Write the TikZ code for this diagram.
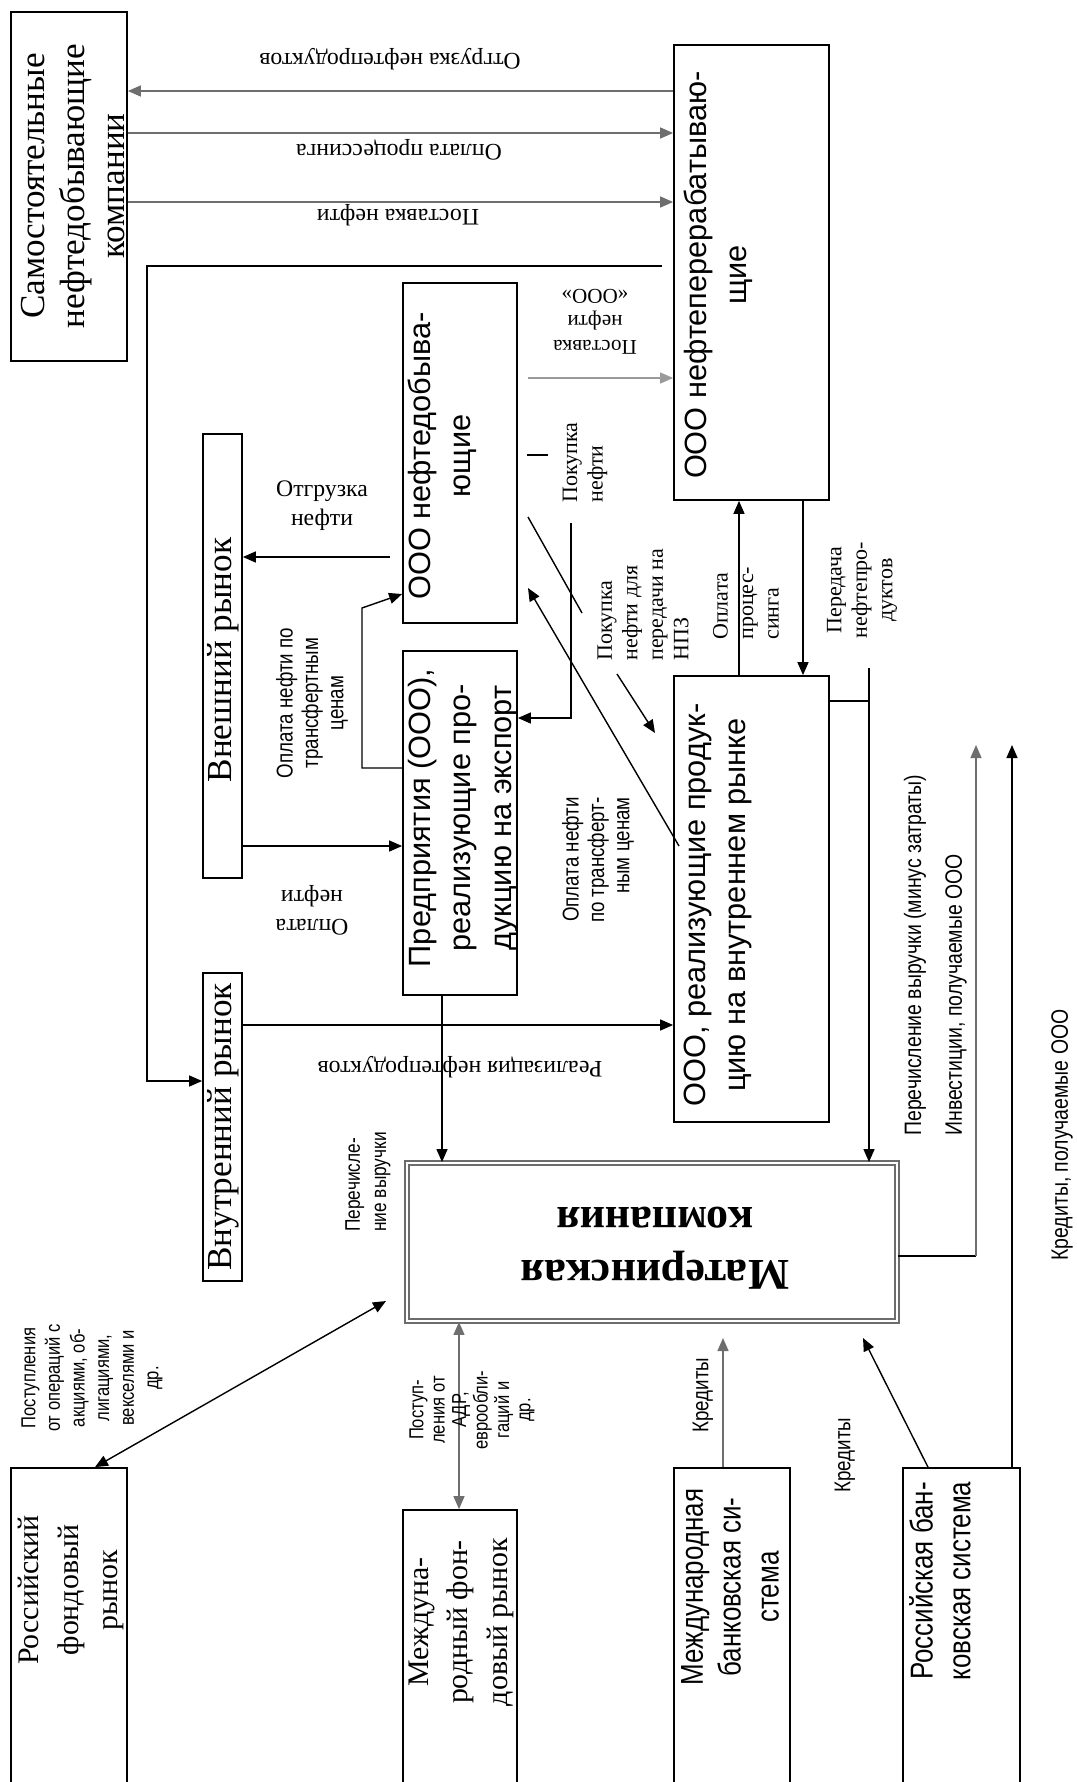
\documentclass[tikz,border=0pt]{standalone}
\usepackage{fontspec}
\setmainfont{Liberation Serif}
\newfontfamily\boxsans{Liberation Sans}
\newfontfamily\narrowsans[FakeStretch=0.82]{Liberation Sans}
\usetikzlibrary{arrows.meta, fit}
\definecolor{lineGray}{HTML}{6E6E6E}
\definecolor{lightGray}{HTML}{9A9A9A}

\begin{document}
\begin{tikzpicture}[x=0.02cm, y=-0.02cm,
    box/.style={draw, line width=1pt, inner sep=0pt},
    matbox/.style={draw=gray!85!black, line width=1.1pt, double=white,
                   double distance=0.8pt, inner sep=0pt},
    serift/.style={rotate=90, align=center, inner sep=0pt,
                   font=\rmfamily\fontsize{20}{23}\selectfont},
    sanst/.style={rotate=90, align=center, inner sep=0pt,
                  font=\boxsans\fontsize{17.5}{23}\selectfont},
    narrowt/.style={rotate=90, align=center, inner sep=0pt,
                    font=\narrowsans\fontsize{18}{21.5}\selectfont},
    mattxt/.style={rotate=180, align=center, inner sep=0pt,
                   font=\rmfamily\bfseries\fontsize{25}{30}\selectfont},
    lbl/.style={align=center, inner sep=0pt, font=\fontsize{13.5}{16.5}\selectfont},
    ulbl/.style={lbl, rotate=180},
    slbl/.style={align=center, inner sep=0pt, rotate=90,
                 font=\fontsize{12.5}{14.5}\selectfont},
    nlbl/.style={align=center, inner sep=0pt, rotate=90,
                 font=\narrowsans\fontsize{13}{14.5}\selectfont},
    ln/.style={line width=0.8pt},
    arr/.style={ln, -{Triangle[length=2.6mm, width=2.2mm]}},
    garr/.style={arr, draw=lineGray},
    larr/.style={arr, draw=lightGray, line width=0.6pt},
    darr/.style={ln, {Triangle[length=2.6mm, width=2.2mm]}-{Triangle[length=2.6mm, width=2.2mm]}},
  ]
    \useasboundingbox (0,0) rectangle (1077,1782);

    % ─── Boxes ───
    \node[box, fit={(11,12) (127,361)}] (samost) {};
    \node[box, fit={(674,45) (829,500)}] (npz) {};
    \node[box, fit={(203,434) (242,878)}] (vnesh) {};
    \node[box, fit={(203,973) (242,1281)}] (vnutr) {};
    \node[box, fit={(403,283) (517,623)}] (dobyv) {};
    \node[box, fit={(403,651) (517,995)}] (predpr) {};
    \node[box, fit={(674,676) (829,1122)}] (oooVn) {};
    \node[matbox, fit={(407,1163) (897,1321)}] (mat) {};
    \node[box, fit={(11,1468) (127,1800)}] (rosFond) {};
    \node[box, fit={(403,1510) (517,1800)}] (mezhFond) {};
    \node[box, fit={(674,1468) (790,1800)}] (mezhBank) {};
    \node[box, fit={(903,1468) (1020,1800)}] (rosBank) {};

    % ─── Box texts ───
    \node[serift] (samostT) at (73,186) {Самостоятельные\\нефтедобывающие\\компании};
    \node[sanst] (npzT) at (718,275) {ООО нефтеперерабатываю-\\щие};
    \node[serift] (vneshT) at (223,660) {Внешний рынок};
    \node[serift] (vnutrT) at (223,1127) {Внутренний рынок};
    \node[sanst] (dobyvT) at (442,456) {ООО нефтедобыва-\\ющие};
    \node[sanst] (predprT) at (463,818) {Предприятия (ООО),\\реализующие про-\\дукцию на экспорт};
    \node[sanst] (oooVnT) at (718,905) {ООО, реализующие продук-\\цию на внутреннем рынке};
    \node[mattxt] (matT) at (655,1248) {Материнская\\компания};
    \node[serift, font=\rmfamily\fontsize{17}{22.5}\selectfont] (rosFondT) at (71,1590)
      {Российский\\фондовый\\рынок};
    \node[serift, font=\rmfamily\fontsize{17}{22.5}\selectfont] (mezhFondT) at (461,1622)
      {Междуна-\\родный фон-\\довый рынок};
    \node[narrowt] (mezhBankT) at (730,1587) {Международная\\банковская си-\\стема};
    \node[narrowt] (rosBankT) at (940,1581) {Российская бан-\\ковская система};

    % ─── Free ends ───
    \coordinate (dStart) at (662,266);
    \coordinate (eStart) at (528,378);
    \coordinate (fStart) at (390,557);
    \coordinate (kTickA) at (527,455);
    \coordinate (kTickB) at (548,455);
    \coordinate (kStart) at (571,523);
    \coordinate (lA) at (528,517);
    \coordinate (lB) at (582,613);
    \coordinate (lC) at (617,674);
    \coordinate (lD) at (655,733);
    \coordinate (mStart) at (679,846);
    \coordinate (mEnd) at (528,588);
    \coordinate (pTop) at (869,668);
    \coordinate (invTop) at (976,745);
    \coordinate (credTop) at (1012,745);

    % ─── Top flows ───
    \draw[garr] (npz.west |- 0,91) -- (samost.east |- 0,91);
    \draw[garr] (samost.east |- 0,133) -- (npz.west |- 0,133);
    \draw[garr] (samost.east |- 0,202) -- (npz.west |- 0,202);
    \draw[arr] (dStart) -- (147,266) |- (vnutr.west |- 0,1081);
    \draw[larr] (eStart) -- (npz.west |- 0,378);

    \node[ulbl] (lblOtgrNp) at (390,59) {Отгрузка нефтепродуктов};
    \node[ulbl] (lblOplProc) at (399,150) {Оплата процессинга};
    \node[ulbl] (lblPost) at (398,215) {Поставка нефти};
    \node[ulbl, font=\fontsize{12}{14.5}\selectfont] (lblPostOoo) at (595,322)
      {Поставка\\нефти\\«ООО»};

    % ─── Export side ───
    \draw[arr] (fStart) -- (vnesh.east |- 0,557);
    \node[lbl] (lblOtgr) at (322,506) {Отгрузка\\нефти};
    \draw[arr] (predpr.west |- 0,768) -- (362,768) -- (362,608) -- (dobyv.west |- 0,594);
    \node[nlbl] (lblOplTr) at (312,703) {Оплата нефти по\\трансфертным\\ценам};
    \draw[arr] (vnesh.east |- 0,846) -- (predpr.west |- 0,846);
    \node[ulbl] (lblOplN) at (312,910) {Оплата\\нефти};

    % ─── Domestic side ───
    \draw[arr] (vnutr.east |- 0,1025) -- (oooVn.west |- 0,1025);
    \node[ulbl] (lblReal) at (460,1067) {Реализация нефтепродуктов};
    \draw[arr] (predpr.south -| 442,0) -- (mat.north -| 442,0);
    \node[nlbl, font=\narrowsans\fontsize{12}{15}\selectfont, align=left, anchor=west]
      (lblPerech) at (368,1232) {Перечисле-\\ние выручки};

    % ─── Between the ООО ───
    \draw[ln] (kTickA) -- (kTickB);
    \draw[arr] (kStart) |- (predpr.east |- 0,718);
    \node[slbl, align=left, anchor=west] (lblPok) at (585,503) {Покупка\\нефти};
    \draw[ln] (lA) -- (lB);
    \draw[arr] (lC) -- (lD);
    \node[slbl, align=left, anchor=west] (lblPokNpz) at (643,661)
      {Покупка\\нефти для\\передачи на\\НПЗ};
    \draw[arr] (mStart) -- (mEnd);
    \node[nlbl, align=right, anchor=east] (lblOplTr2) at (598,797)
      {Оплата нефти\\по трансферт-\\ным ценам};
    \draw[arr] (oooVn.north -| 739,0) -- (npz.south -| 739,0);
    \node[slbl, align=left, anchor=west] (lblOplPr) at (746,640) {Оплата\\процес-\\синга};
    \draw[arr] (npz.south -| 803,0) -- (oooVn.north -| 803,0);
    \node[slbl] (lblPered) at (862,590) {Передача\\нефтепро-\\дуктов};

    % ─── Right side ───
    \draw[ln] (oooVn.east |- 0,701) -- (pTop |- 0,701);
    \draw[arr] (pTop) -- (mat.north -| pTop);
    \node[nlbl, font=\narrowsans\fontsize{13.5}{15}\selectfont, anchor=west]
      (lblPerMin) at (915,1136) {Перечисление выручки (минус затраты)};
    \draw[ln] (mat.east |- 0,1256) -- (invTop |- 0,1256);
    \draw[garr] (invTop |- 0,1256) -- (invTop);
    \node[nlbl, font=\narrowsans\fontsize{13.5}{15}\selectfont, anchor=west]
      (lblInv) at (956,1136) {Инвестиции, получаемые ООО};
    \draw[arr] (rosBank.north -| credTop) -- (credTop);
    \node[nlbl, font=\narrowsans\fontsize{13.5}{15}\selectfont]
      (lblKredOoo) at (1062,1135) {Кредиты, получаемые ООО};

    % ─── Markets and banks ───
    \draw[darr] (rosFond.north -| 95,0) -- (386,1301);
    \node[nlbl, font=\narrowsans\fontsize{11.5}{14}\selectfont] (lblPostAk) at (92,1378)
      {Поступления\\от операций с\\акциями, об-\\лигациями,\\векселями и\\др.};
    \draw[darr, draw=lineGray] (mat.south -| 459,0) -- (mezhFond.north -| 459,0);
    \node[nlbl, font=\narrowsans\fontsize{11.5}{12.2}\selectfont] (lblPostAdr) at (472,1410)
      {Поступ-\\ления от\\АДР,\\еврообли-\\гаций и\\др.};
    \draw[garr] (mezhBank.north -| 723,0) -- (723,1338);
    \node[nlbl] (lblKred1) at (703,1395) {Кредиты};
    \draw[arr] (rosBank.north -| 928,0) -- (863,1338);
    \node[nlbl] (lblKred2) at (845,1455) {Кредиты};
  \end{tikzpicture}
\end{document}
